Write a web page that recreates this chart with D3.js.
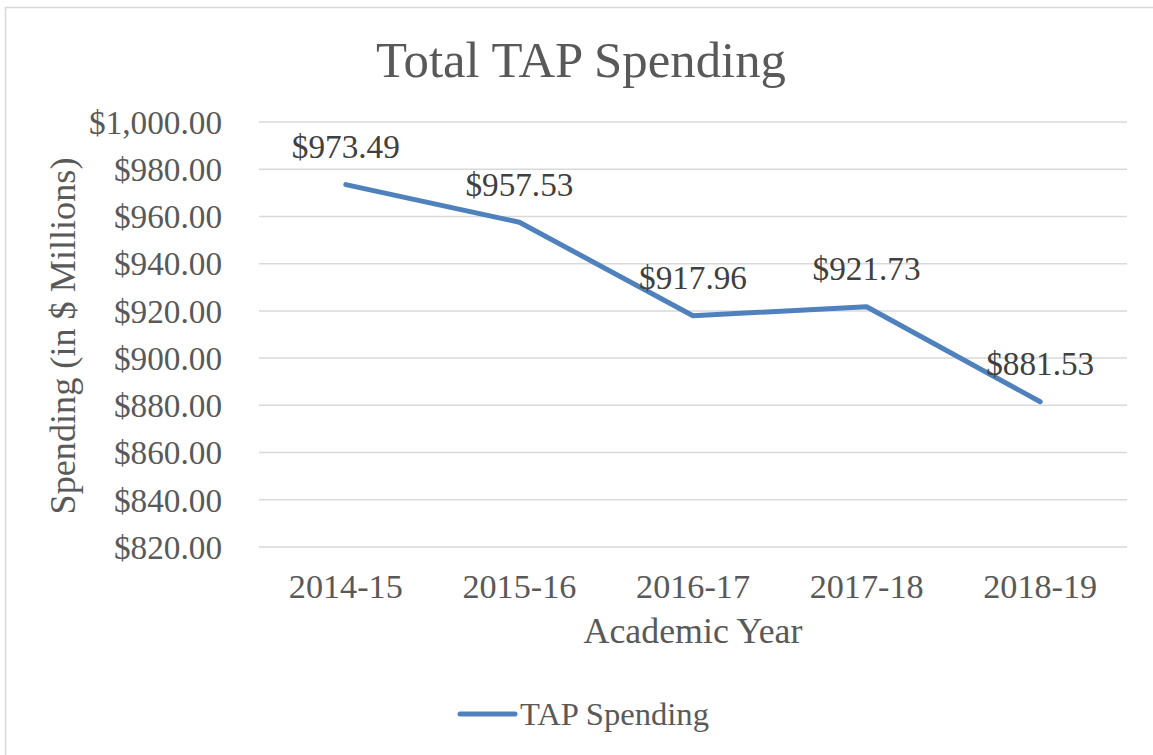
<!DOCTYPE html>
<html>
<head>
<meta charset="utf-8">
<script src="https://cdn.jsdelivr.net/npm/d3@7"></script>
<style>
  html, body { margin: 0; padding: 0; background: #fff; }
  svg { display: block; }
  text { font-family: "Liberation Serif", "DejaVu Serif", serif; }
</style>
</head>
<body>
<svg id="chart" width="1153" height="755"></svg>
<script>
const years = ["2014-15", "2015-16", "2016-17", "2017-18", "2018-19"];
const spending = [973.49, 957.53, 917.96, 921.73, 881.53];
const yTicks = [820, 840, 860, 880, 900, 920, 940, 960, 980, 1000];
const chartTitle = "Total TAP Spending";
const xTitle = "Academic Year";
const yTitle = "Spending (in $ Millions)";
const seriesName = "TAP Spending";

const svg = d3.select("#chart");
const W = 1153, H = 755;
const margin = { left: 259, right: 1127, top: 122, bottom: 547 };
const textColor = "#595959";
const labelColor = "#404040";
const lineColor = "#4F81BD";

function fit(sel, target, base) {
  sel.style("font-size", base + "px");
  const w = sel.node().getComputedTextLength();
  sel.style("font-size", (base * target / w) + "px");
  return sel;
}

// chart border
svg.append("rect").attr("x", 5.5).attr("y", 7.5).attr("width", W + 10).attr("height", H + 10)
  .attr("fill", "#fff").attr("stroke", "#d9d9d9").attr("stroke-width", 1.5);

const x = d3.scaleBand().domain(years).range([margin.left, margin.right]);
const y = d3.scaleLinear().domain([820, 1000]).range([margin.bottom, margin.top]);

// gridlines
svg.append("g").selectAll("line").data(yTicks).join("line")
  .attr("x1", margin.left).attr("x2", margin.right)
  .attr("y1", d => y(d)).attr("y2", d => y(d))
  .attr("stroke", "#d9d9d9").attr("stroke-width", 1.5);

// y axis labels
const fmt = d3.format("$,.2f");
const yAxis = svg.append("g").attr("transform", `translate(222,0)`)
  .call(d3.axisLeft(y).tickValues(yTicks).tickFormat(fmt).tickSize(0).tickPadding(0));
yAxis.select(".domain").remove();
yAxis.selectAll("text").attr("fill", textColor).attr("dy", "0.34em");
const probe = yAxis.selectAll("text").filter(d => d === 1000);
fit(probe, 133, 26);
const tickSize = parseFloat(probe.style("font-size"));
yAxis.selectAll("text").style("font-size", tickSize + "px");

// x axis labels
const xAxis = svg.append("g").attr("transform", `translate(0,598)`)
  .call(d3.axisBottom(x).tickSize(0).tickPadding(0));
xAxis.select(".domain").remove();
xAxis.selectAll("text").attr("fill", textColor).attr("dy", "0").attr("y", 0);
const xp = xAxis.selectAll("text").filter(d => d === "2014-15");
fit(xp, 114, 26);
const xSize = parseFloat(xp.style("font-size"));
xAxis.selectAll("text").style("font-size", xSize + "px");

// line
const line = d3.line().x((d, i) => x(years[i]) + x.bandwidth() / 2).y(d => y(d));
svg.append("path").datum(spending).attr("d", line)
  .attr("fill", "none").attr("stroke", lineColor).attr("stroke-width", 5)
  .attr("stroke-linejoin", "round").attr("stroke-linecap", "round");

// data labels
const lbl = svg.append("g").selectAll("text").data(spending).join("text")
  .attr("x", (d, i) => x(years[i]) + x.bandwidth() / 2)
  .attr("y", d => y(d) - 26.5)
  .attr("text-anchor", "middle").attr("fill", labelColor)
  .text(d => fmt(d));
fit(lbl.filter((d, i) => i === 0), 108, 26);
const lblSize = parseFloat(lbl.filter((d, i) => i === 0).style("font-size"));
lbl.style("font-size", lblSize + "px");

// title
const t = svg.append("text").attr("x", 581).attr("y", 77).attr("text-anchor", "middle")
  .attr("fill", textColor).text(chartTitle);
fit(t, 410, 40);

// x title
const xt = svg.append("text").attr("x", 693).attr("y", 643).attr("text-anchor", "middle")
  .attr("fill", textColor).text(xTitle);
fit(xt, 219, 28);

// y title
const yt = svg.append("text").attr("transform", "translate(75,336) rotate(-90)")
  .attr("text-anchor", "middle").attr("fill", textColor).text(yTitle);
fit(yt, 357, 28);

// legend
const lg = svg.append("g");
lg.append("line").attr("x1", 460).attr("x2", 515).attr("y1", 714).attr("y2", 714)
  .attr("stroke", lineColor).attr("stroke-width", 5).attr("stroke-linecap", "round");
const lt = lg.append("text").attr("x", 520).attr("y", 725).attr("fill", textColor).text(seriesName);
fit(lt, 189, 26);
</script>
</body>
</html>
